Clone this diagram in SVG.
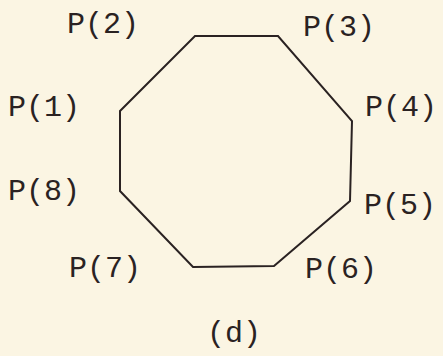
<svg xmlns="http://www.w3.org/2000/svg" width="443" height="356" viewBox="0 0 443 356">
<style>
.bg{fill:#fbf5e3}
.edge{fill:none;stroke:#2a2222;stroke-width:2;stroke-linejoin:miter}
.lbl{font-family:"Liberation Mono","DejaVu Sans Mono",monospace;font-size:30px;fill:#2a2222}
</style>
<rect class="bg" x="0" y="0" width="443" height="356"/>
<g id="connectors">
<path class="edge" d="M120,111 L195,36 L278,36 L352,121 L350,201 L274,266 L193,267 L120,191 Z"/>
</g>
<g id="p1"><text class="lbl" x="8" y="116">P(1)</text></g>
<g id="p2"><text class="lbl" x="67" y="33">P(2)</text></g>
<g id="p3"><text class="lbl" x="303" y="36">P(3)</text></g>
<g id="p4"><text class="lbl" x="365" y="116">P(4)</text></g>
<g id="p5"><text class="lbl" x="364" y="214">P(5)</text></g>
<g id="p6"><text class="lbl" x="305" y="278">P(6)</text></g>
<g id="p7"><text class="lbl" x="69" y="277">P(7)</text></g>
<g id="p8"><text class="lbl" x="8" y="200">P(8)</text></g>
<g id="caption"><text class="lbl" x="207" y="342">(d)</text></g>
</svg>
